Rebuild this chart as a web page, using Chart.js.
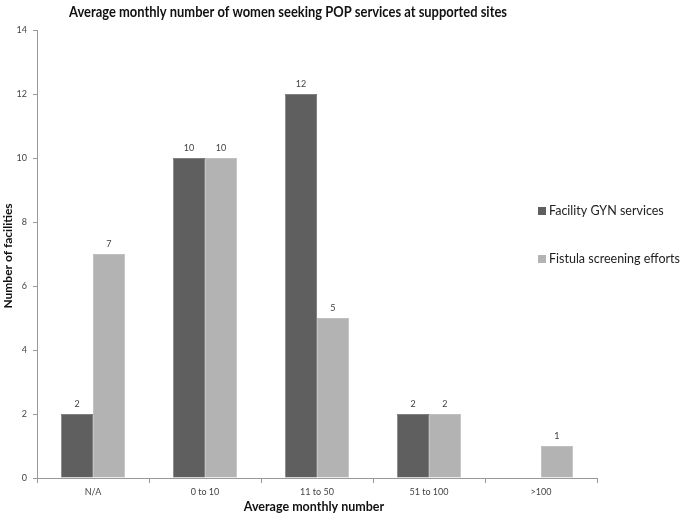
<!DOCTYPE html>
<html>
<head>
<meta charset="utf-8">
<script src="https://cdn.jsdelivr.net/npm/chart.js@4"></script>
<style>
  html, body { margin: 0; padding: 0; background: #fff; }
  #wrap { width: 685px; height: 516px; }
</style>
</head>
<body>
<div id="wrap"><canvas id="myChart" width="685" height="516"></canvas></div>
<script>
// data
var categories = ['N/A', '0 to 10', '11 to 50', '51 to 100', '>100'];
var gynServices = [2, 10, 12, 2, null];
var fistulaScreening = [7, 10, 5, 2, 1];
var yTicks = [0, 2, 4, 6, 8, 10, 12, 14];

var font = "Lato, 'Open Sans', sans-serif";

// titles, legend, value labels
var extras = {
    id: 'extras',
    afterDatasetsDraw: function(chart) {
        var ctx = chart.ctx;
        ctx.save();
        ctx.fillStyle = '#404040';
        ctx.font = '9px ' + font;
        ctx.textAlign = 'center';
        ctx.textBaseline = 'bottom';
        chart.data.datasets.forEach(function(ds, i) {
            chart.getDatasetMeta(i).data.forEach(function(bar, j) {
                if (ds.data[j] == null) return;
                ctx.fillText(ds.data[j], bar.x, bar.y - 5);
            });
        });

        var area = chart.chartArea;
        ctx.fillStyle = '#111';
        ctx.font = 'bold 15.5px ' + font;
        ctx.textBaseline = 'middle';
        ctx.fillText('Average monthly number of women seeking POP services at supported sites', 288, 12, 438);

        ctx.font = 'bold 12.5px ' + font;
        ctx.fillText('Average monthly number', (area.left + area.right) / 2 - 3, 507);

        ctx.save();
        ctx.translate(8, (area.top + area.bottom) / 2 + 2);
        ctx.rotate(-Math.PI / 2);
        ctx.font = 'bold 12px ' + font;
        ctx.fillText('Number of facilities', 0, 0);
        ctx.restore();

        // legend
        ctx.font = '12.5px ' + font;
        ctx.textAlign = 'left';
        chart.data.datasets.forEach(function(ds, i) {
            var y = 211 + i * 48;
            ctx.fillStyle = ds.backgroundColor;
            ctx.fillRect(538, y - 4, 8, 8);
            ctx.fillStyle = '#222';
            ctx.fillText(ds.label, 549, y);
        });
        ctx.restore();
    }
};

var ctx = document.getElementById('myChart').getContext('2d');
var myBarChart = new Chart(ctx, {
    type: 'bar',
    data: {
        labels: categories,
        datasets: [{
            label: 'Facility GYN services',
            data: gynServices,
            backgroundColor: '#5f5f5f',
            borderColor: '#4a4a4a',
            borderWidth: 0.5
        }, {
            label: 'Fistula screening efforts',
            data: fistulaScreening,
            backgroundColor: '#b3b3b3',
            borderColor: '#a0a0a0',
            borderWidth: 0.5
        }]
    },
    options: {
        responsive: false,
        animation: false,
        layout: { padding: { left: 0, top: 30, right: 88, bottom: 0 } },
        categoryPercentage: 0.57,
        barPercentage: 1.0,
        plugins: {
            legend: { display: false },
            title: { display: false },
            tooltip: { enabled: false }
        },
        scales: {
            x: {
                grid: {
                    display: true,
                    drawOnChartArea: false,
                    drawTicks: true,
                    tickLength: 5,
                    offset: true,
                    color: '#999'
                },
                border: { color: '#999' },
                ticks: { color: '#444', font: { family: font, size: 9 }, padding: 4 },
                afterFit: function(scale) { scale.height = 38; }
            },
            y: {
                min: 0,
                max: 14,
                afterBuildTicks: function(scale) {
                    scale.ticks = yTicks.map(function(v) { return { value: v }; });
                },
                grid: {
                    display: true,
                    drawOnChartArea: false,
                    drawTicks: true,
                    tickLength: 4,
                    color: '#999'
                },
                border: { color: '#999' },
                ticks: { color: '#444', font: { family: font, size: 9 }, padding: 6 },
                afterFit: function(scale) { scale.width = 37; }
            }
        }
    },
    plugins: [extras]
});
</script>
</body>
</html>
